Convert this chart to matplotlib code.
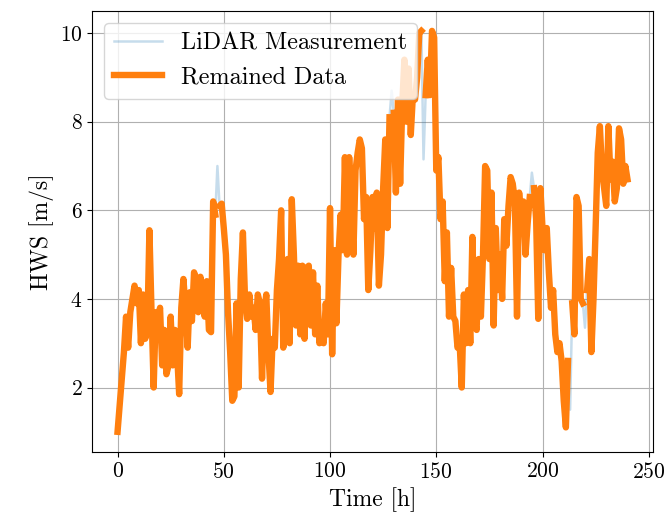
import numpy as np
import matplotlib
matplotlib.use("Agg")
import matplotlib.pyplot as plt

plt.rcParams['font.family'] = 'serif'
plt.rcParams['font.serif'] = ['cmr10', 'DejaVu Serif']
plt.rcParams['mathtext.fontset'] = 'cm'
plt.rcParams['axes.formatter.use_mathtext'] = True

# hourly horizontal wind speed [m/s]
hws = [
    1.0, 1.6, 2.2, 2.8, 3.6, 2.9, 3.7, 4.0, 4.3, 3.9,
    4.2, 3.0, 4.1, 3.1, 3.3, 5.55, 3.7, 2.0, 3.7, 3.5,
    3.8, 2.5, 3.3, 2.3, 2.5, 3.6, 2.5, 3.3, 2.8, 1.85,
    3.8, 4.45, 3.8, 2.9, 4.15, 3.5, 4.6, 4.45, 3.7, 4.5,
    4.15, 3.6, 4.4, 3.3, 3.25, 6.2, 5.9, 7.0, 6.1, 6.15,
    5.6, 5.0, 3.7, 2.8, 1.7, 1.8, 3.9, 2.0, 4.45, 5.5,
    4.0, 3.55, 4.1, 3.6, 3.8, 3.3, 4.1, 3.9, 2.2, 3.7,
    4.1, 2.8, 1.9, 3.1, 2.9, 4.2, 4.9, 6.0, 2.9, 3.6,
    4.9, 3.0, 6.25, 5.0, 3.4, 4.75, 3.2, 4.75, 3.1, 4.7,
    4.75, 3.4, 4.6, 3.2, 4.3, 3.0, 3.4, 3.0, 3.9, 3.2,
    6.05, 2.75, 5.1, 3.45, 5.0, 5.9, 5.1, 7.2, 5.0, 7.2,
    6.2, 5.0, 6.9, 7.3, 7.6, 7.4, 5.8, 6.3, 4.2, 5.1,
    6.3, 5.6, 6.4, 4.3, 5.0, 6.5, 7.6, 5.6, 8.1, 8.7,
    8.2, 6.4, 8.5, 6.6, 8.4, 9.4, 8.0, 9.2, 7.7, 8.6,
    8.5, 9.0, 10.0, 10.05, 7.15, 8.6, 9.4, 8.6, 10.05, 9.9,
    6.9, 7.2, 5.8, 6.2, 4.4, 5.5, 3.6, 4.7, 3.6, 3.5,
    2.9, 3.0, 2.0, 4.1, 3.0, 4.2, 3.0, 5.4, 3.5, 3.3,
    4.9, 3.6, 5.0, 7.0, 6.9, 4.9, 6.4, 3.4, 5.6, 4.2,
    5.0, 4.0, 5.8, 5.2, 6.1, 6.75, 6.6, 6.2, 3.6, 6.4,
    5.65, 6.2, 5.0, 5.7, 6.3, 6.85, 6.5, 5.8, 3.55, 6.5,
    5.6, 5.1, 5.6, 4.6, 3.8, 4.2, 3.2, 2.8, 3.0, 2.6,
    1.7, 1.1, 2.6, 1.5, 3.9, 3.2, 6.3, 6.1, 4.0, 3.9,
    3.35, 4.2, 4.9, 2.8, 4.0, 5.6, 7.3, 7.9, 6.9, 6.5,
    6.1, 7.9, 6.7, 7.1, 6.2, 6.5, 7.85, 7.6, 6.6, 7.0,
    6.7,
]
hours = np.arange(len(hws))

# hours filtered out of the remained data
removed = [47, 129, 144, 195, 213, 220]

remained = np.array(hws, dtype=float)
remained[removed] = np.nan

fig = plt.figure(figsize=(6.67, 5.17), dpi=100)
ax = fig.add_axes([0.138, 0.126, 0.841, 0.853])

ax.plot(hours, hws, color='tab:blue', alpha=0.25, lw=1.8, label='LiDAR Measurement')
ax.plot(hours, remained, color='tab:orange', lw=4.6, label='Remained Data')

ax.grid(True)
ax.set_xlabel('Time [h]', fontsize=17)
ax.set_ylabel('HWS [m/s]', fontsize=17)
ax.tick_params(labelsize=15.5)
ax.legend(loc='upper left', fontsize=17.4)

fig.savefig('out.png', dpi=100)
